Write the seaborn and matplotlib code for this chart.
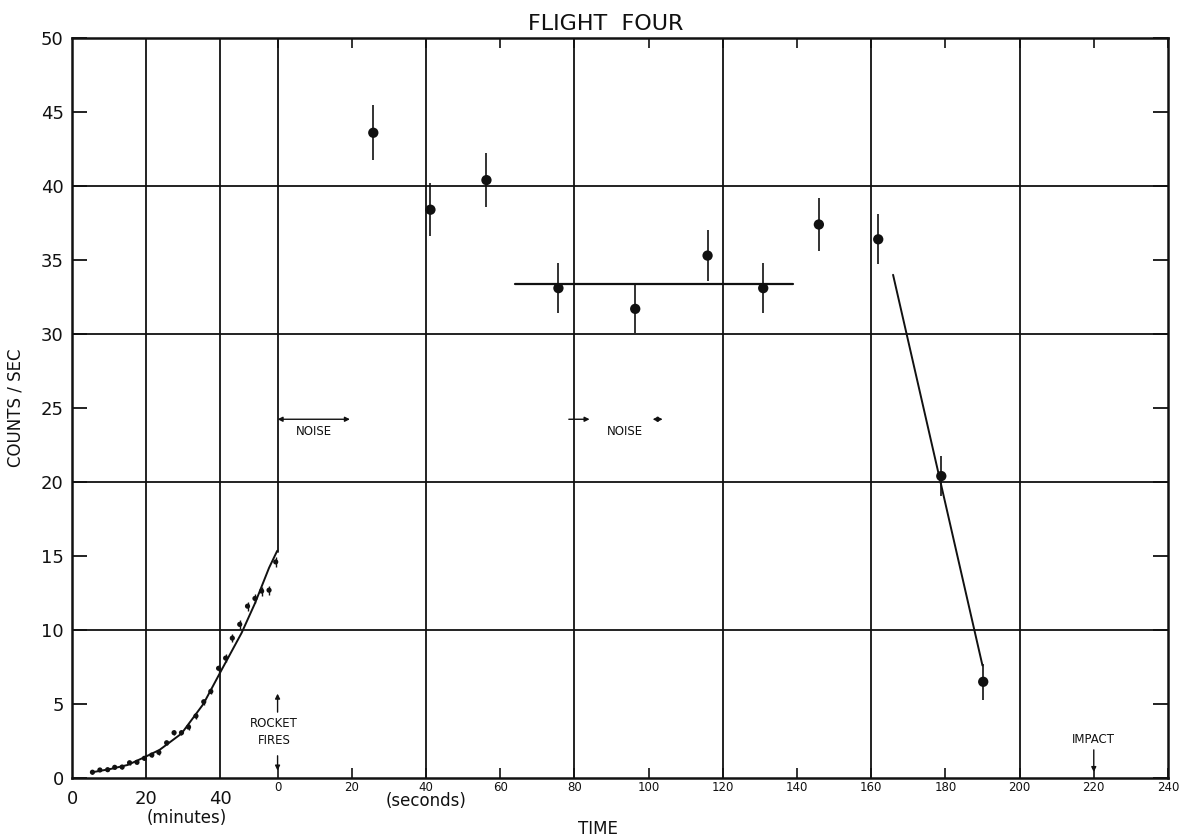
import numpy as np
import pandas as pd
import matplotlib
matplotlib.use('agg')
import matplotlib.pyplot as plt
import seaborn as sns

# the time axis is split: minutes before launch, then seconds after the rocket fired
SEC_OFFSET = 55.4   # plot position of "0 seconds"

# pre-launch counting rate (minutes)
pre_minutes = [5.5, 7.5, 9.6, 11.5, 13.5, 15.5, 17.5, 19.5, 21.5, 23.4, 25.5, 27.5, 29.5,
               31.4, 33.4, 35.5, 37.4, 39.5, 41.4, 43.2, 45.2, 47.3, 49.3, 51.1, 53.1, 54.9]
pre_counts = [0.39, 0.54, 0.56, 0.72, 0.74, 1.03, 1.06, 1.33, 1.55, 1.73, 2.38, 3.06, 3.06,
              3.44, 4.19, 5.15, 5.85, 7.41, 8.10, 9.45, 10.38, 11.61, 12.13, 12.63, 12.69, 14.60]
pre_err = [0.1, 0.1, 0.1, 0.1, 0.1, 0.12, 0.12, 0.12, 0.12, 0.15, 0.15, 0.15, 0.15,
           0.2, 0.2, 0.2, 0.2, 0.25, 0.25, 0.25, 0.28, 0.3, 0.3, 0.3, 0.3, 0.35]

# smooth curve drawn through the pre-launch points
fit_minutes = [5.5, 10.4, 15.0, 19.5, 23.6, 29.5, 35.4, 40.3, 45.7, 49.3, 53.1, 55.3]
fit_counts = [0.39, 0.61, 0.88, 1.4, 1.9, 3.0, 5.0, 7.3, 9.8, 11.8, 14.2, 15.35]

# flight data (seconds after firing)
flight_sec = [25.8, 41.2, 56.3, 75.7, 96.4, 115.9, 130.9, 145.9, 161.9, 178.9, 190.2]
flight_counts = [43.6, 38.4, 40.4, 33.1, 31.7, 35.3, 33.1, 37.4, 36.4, 20.4, 6.5]
flight_err = [1.85, 1.8, 1.8, 1.7, 1.65, 1.75, 1.7, 1.8, 1.7, 1.35, 1.2]

plateau_sec = [64.1, 139.0]
plateau_counts = [33.4, 33.4]
decline_sec = [165.9, 190.0]
decline_counts = [34.0, 7.6]

minute_ticks = [0, 20, 40]
second_ticks = [0, 20, 40, 60, 80, 100, 120, 140, 160, 180, 200, 220, 240]
count_ticks = [0, 5, 10, 15, 20, 25, 30, 35, 40, 45, 50]

sns.set_style('ticks')
plt.rcParams['font.family'] = ['DejaVu Sans']

pre = pd.DataFrame({'t': pre_minutes, 'c': pre_counts, 'e': pre_err})
fit = pd.DataFrame({'t': fit_minutes, 'c': fit_counts})
flight = pd.DataFrame({'t': np.array(flight_sec) + SEC_OFFSET, 'c': flight_counts, 'e': flight_err})
plateau = pd.DataFrame({'t': np.array(plateau_sec) + SEC_OFFSET, 'c': plateau_counts})
decline = pd.DataFrame({'t': np.array(decline_sec) + SEC_OFFSET, 'c': decline_counts})

fig = plt.figure(figsize=(11.83, 8.36), dpi=100)
ax = fig.add_axes([0.0609, 0.0694, 0.9264, 0.8851])

ink = '#111111'
# grid
for yv in [10, 20, 30, 40]:
    ax.axhline(yv, color=ink, lw=1.3, zorder=1)
for xv in [20, 40]:
    ax.axvline(xv, color=ink, lw=1.3, zorder=1)
for sv in [40, 80, 120, 160, 200]:
    ax.axvline(sv + SEC_OFFSET, color=ink, lw=1.3, zorder=1)
ax.plot([SEC_OFFSET, SEC_OFFSET], [15.3, 50], color=ink, lw=1.3, zorder=1)

# data
ax.errorbar(pre['t'], pre['c'], yerr=pre['e'], fmt='none', ecolor=ink, elinewidth=1.0, zorder=3)
sns.scatterplot(data=pre, x='t', y='c', ax=ax, color=ink, s=14, edgecolor='none', zorder=4)
sns.lineplot(data=fit, x='t', y='c', ax=ax, color=ink, lw=1.4, sort=False, estimator=None, zorder=3)

ax.errorbar(flight['t'], flight['c'], yerr=flight['e'], fmt='none', ecolor=ink, elinewidth=1.2, zorder=3)
sns.scatterplot(data=flight, x='t', y='c', ax=ax, color=ink, s=55, edgecolor='none', zorder=4)
sns.lineplot(data=plateau, x='t', y='c', ax=ax, color=ink, lw=1.6, sort=False, estimator=None, zorder=3)
sns.lineplot(data=decline, x='t', y='c', ax=ax, color=ink, lw=1.4, sort=False, estimator=None, zorder=3)

# annotations
arr = dict(color=ink, lw=1.0, shrinkA=0, shrinkB=0, mutation_scale=7)
ax.annotate('', xy=(SEC_OFFSET + 19.5, 24.24), xytext=(SEC_OFFSET, 24.24), arrowprops=dict(arrowstyle='<|-|>', **arr))
ax.text(SEC_OFFSET + 9.8, 23.4, 'NOISE', fontsize=8.5, ha='center', va='center', color=ink)
ax.annotate('', xy=(SEC_OFFSET + 84.1, 24.24), xytext=(SEC_OFFSET + 78.5, 24.24), arrowprops=dict(arrowstyle='-|>', **arr))
ax.text(SEC_OFFSET + 93.5, 23.4, 'NOISE', fontsize=8.5, ha='center', va='center', color=ink)
ax.annotate('', xy=(SEC_OFFSET + 103.8, 24.24), xytext=(SEC_OFFSET + 101.1, 24.24), arrowprops=dict(arrowstyle='<|-|>', **arr))

ax.text(SEC_OFFSET - 0.9, 3.1, 'ROCKET\nFIRES', fontsize=8.5, ha='center', va='center', color=ink, linespacing=1.4)
ax.annotate('', xy=(SEC_OFFSET, 5.7), xytext=(SEC_OFFSET, 4.45), arrowprops=dict(arrowstyle='-|>', **arr))
ax.annotate('', xy=(SEC_OFFSET, 0.5), xytext=(SEC_OFFSET, 1.5), arrowprops=dict(arrowstyle='-|>', **arr))

ax.text(SEC_OFFSET + 220, 2.6, 'IMPACT', fontsize=8.5, ha='center', va='center', color=ink)
ax.annotate('', xy=(SEC_OFFSET + 220, 0.4), xytext=(SEC_OFFSET + 220, 1.9), arrowprops=dict(arrowstyle='-|>', **arr))

# axes
ax.set_xlim(0, SEC_OFFSET + 240)
ax.set_ylim(0, 50)
ax.set_xticks(minute_ticks, [str(m) for m in minute_ticks])
ax.set_xticks([s + SEC_OFFSET for s in second_ticks], [str(s) for s in second_ticks], minor=True)
ax.tick_params(axis='x', which='major', length=0, pad=9, labelsize=13, colors=ink)
ax.tick_params(axis='x', which='minor', direction='in', length=7, width=1.2, pad=2,
               labelsize=8.5, top=True, colors=ink)
ax.set_yticks(count_ticks, [str(c) for c in count_ticks])
ax.tick_params(axis='y', direction='in', length=11, width=1.3, pad=6, labelsize=13,
               right=True, colors=ink)
for sp in ax.spines.values():
    sp.set_visible(True)
    sp.set_linewidth(1.8)
    sp.set_color(ink)

ax.set_title('FLIGHT  FOUR', x=0.487, pad=6, fontsize=16, color=ink)
ax.set_ylabel('COUNTS / SEC', fontsize=12, color=ink)
ax.yaxis.set_label_coords(-0.043, 0.5)
ax.set_xlabel('TIME', fontsize=12, color=ink)
ax.xaxis.set_label_coords(0.48, -0.057)
ax.text(31, -0.054, '(minutes)', transform=ax.get_xaxis_transform(), fontsize=12,
        ha='center', va='center', color=ink)
ax.text(SEC_OFFSET + 40, -0.031, '(seconds)', transform=ax.get_xaxis_transform(), fontsize=12,
        ha='center', va='center', color=ink)

fig.savefig('out.png', dpi=100)
